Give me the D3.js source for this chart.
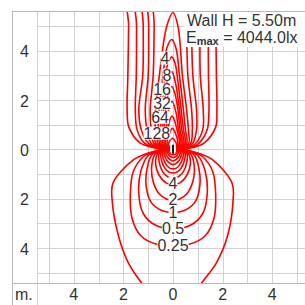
<!DOCTYPE html>
<html>
<head>
<meta charset="utf-8">
<script src="https://cdn.jsdelivr.net/npm/d3@7"></script>
<style>
html,body{margin:0;padding:0;background:#fff}
svg{display:block;font-family:"Liberation Sans",Arial,sans-serif}
</style>
</head>
<body>
<svg id="chart" width="305" height="305"></svg>
<script>
// axis / grid values (metres)
const gridSteps=[-5,-4,-3,-2,-1,0,1,2,3,4,5]
const xTicks=[-4,-2,0,2,4]
const yTicks=[4,2,0,-2,-4]

// isolux lines, [x, y] in metres, closed loops
const c0125=[[0.5,0],[0.9,0.1],[1.25,0.25],[1.72,0.9],[1.77,1.6],[1.75,3.0],[1.73,5.0],[1.73,6.5],[0,7.5],[-1.79,6.5],[-1.79,5.0],[-1.82,3.0],[-1.85,1.6],[-1.78,0.9],[-1.33,0.26],[-0.9,0.1],[-0.5,0],
  [-1.0,-0.15],[-1.6,-0.43],[-2.42,-1.37],[-2.45,-2.1],[-2.2,-3.5],[-1.8,-4.6],[-1.26,-5.43],[-0.6,-6.3],[0,-6.5],[0.6,-6.3],[1.15,-5.43],[1.75,-4.6],[2.2,-3.5],[2.42,-2.1],[2.38,-1.37],[1.6,-0.43],[1.0,-0.15]]
const c025=[[0.45,0],[0.8,0.1],[1.05,0.25],[1.38,0.8],[1.45,1.6],[1.43,3.0],[1.42,5.0],[1.42,6.5],[0,7.5],[-1.47,6.5],[-1.47,5.0],[-1.48,3.0],[-1.52,1.6],[-1.45,0.8],[-1.15,0.25],[-0.8,0.1],[-0.45,0],
  [-0.85,-0.12],[-1.2,-0.3],[-1.6,-0.9],[-1.72,-1.8],[-1.65,-2.8],[-1.3,-3.5],[-0.65,-3.85],[0,-3.9],[0.65,-3.85],[1.3,-3.5],[1.65,-2.8],[1.72,-1.8],[1.6,-0.9],[1.2,-0.3],[0.85,-0.12]]
const c05=[[0.4,0],[0.7,0.1],[0.92,0.25],[1.2,0.8],[1.22,1.6],[1.1,3.0],[1.09,5.0],[1.09,6.5],[0,7.5],[-1.2,6.5],[-1.2,5.0],[-1.22,3.0],[-1.38,1.6],[-1.28,0.8],[-1.0,0.25],[-0.7,0.1],[-0.4,0],
  [-0.72,-0.1],[-1.0,-0.25],[-1.3,-0.9],[-1.38,-1.8],[-1.2,-2.6],[-0.7,-3.08],[0,-3.22],[0.7,-3.08],[1.2,-2.6],[1.38,-1.8],[1.3,-0.9],[1.0,-0.25],[0.72,-0.1]]
const c1=[[0.35,0],[0.6,0.1],[0.8,0.25],[0.95,0.8],[0.95,1.6],[0.8,3.0],[0.75,5.0],[0.75,6.5],[0,7.5],[-0.98,6.5],[-0.98,5.0],[-1.0,3.0],[-1.12,1.6],[-1.05,0.8],[-0.88,0.25],[-0.62,0.1],[-0.35,0],
  [-0.6,-0.09],[-0.85,-0.22],[-1.05,-0.8],[-1.08,-1.5],[-0.88,-2.15],[-0.45,-2.48],[0,-2.56],[0.45,-2.48],[0.88,-2.15],[1.08,-1.5],[1.05,-0.8],[0.85,-0.22],[0.6,-0.09]]
const c2=[[0.3,0],[0.52,0.1],[0.72,0.25],[0.78,0.8],[0.75,1.6],[0.6,3.0],[0.55,5.0],[0.55,6.5],[0,7.5],[-0.76,6.5],[-0.76,5.0],[-0.8,3.0],[-0.92,1.6],[-0.88,0.8],[-0.78,0.25],[-0.55,0.1],[-0.3,0],
  [-0.5,-0.08],[-0.72,-0.2],[-0.86,-0.7],[-0.8,-1.3],[-0.56,-1.8],[-0.25,-2.02],[0,-2.06],[0.25,-2.02],[0.56,-1.8],[0.8,-1.3],[0.86,-0.7],[0.72,-0.2],[0.5,-0.08]]
const c4=[[0.27,0],[0.46,0.1],[0.64,0.25],[0.62,0.8],[0.55,1.6],[0.38,3.0],[0.2,5.0],[0,5.55],[-0.25,5.0],[-0.55,3.0],[-0.7,1.6],[-0.72,0.8],[-0.7,0.25],[-0.48,0.1],[-0.27,0],
  [-0.44,-0.07],[-0.62,-0.18],[-0.7,-0.6],[-0.56,-1.05],[-0.28,-1.36],[0,-1.42],[0.28,-1.36],[0.56,-1.05],[0.7,-0.6],[0.62,-0.18],[0.44,-0.07]]
const c8=[[0.24,0],[0.4,0.1],[0.56,0.25],[0.5,0.8],[0.42,1.6],[0.26,3.0],[0.12,4.1],[-0.05,4.45],[-0.25,4.1],[-0.4,3.0],[-0.56,1.6],[-0.6,0.8],[-0.62,0.25],[-0.42,0.1],[-0.24,0],
  [-0.4,-0.06],[-0.55,-0.15],[-0.56,-0.5],[-0.42,-0.9],[-0.2,-1.12],[0,-1.16],[0.2,-1.12],[0.42,-0.9],[0.56,-0.5],[0.55,-0.15],[0.4,-0.06]]
const c16=[[0.21,0],[0.35,0.1],[0.5,0.25],[0.42,0.8],[0.33,1.6],[0.18,2.9],[0.08,3.5],[-0.05,3.75],[-0.2,3.5],[-0.32,2.9],[-0.46,1.6],[-0.5,0.8],[-0.55,0.25],[-0.36,0.1],[-0.21,0],
  [-0.36,-0.05],[-0.48,-0.13],[-0.46,-0.45],[-0.33,-0.76],[-0.15,-0.93],[0,-0.96],[0.15,-0.93],[0.33,-0.76],[0.46,-0.45],[0.48,-0.13],[0.36,-0.05]]
const c32=[[0.18,0],[0.3,0.09],[0.44,0.25],[0.35,0.8],[0.26,1.6],[0.12,2.6],[-0.05,3.15],[-0.2,2.9],[-0.3,2.3],[-0.38,1.6],[-0.42,0.8],[-0.48,0.25],[-0.31,0.09],[-0.18,0],
  [-0.32,-0.05],[-0.42,-0.12],[-0.38,-0.4],[-0.25,-0.65],[-0.12,-0.77],[0,-0.79],[0.12,-0.77],[0.25,-0.65],[0.38,-0.4],[0.42,-0.12],[0.32,-0.05]]
const c64=[[0.15,0],[0.26,0.08],[0.38,0.25],[0.28,0.8],[0.2,1.6],[0.08,2.25],[-0.05,2.55],[-0.18,2.3],[-0.3,1.6],[-0.35,0.8],[-0.42,0.25],[-0.27,0.08],[-0.15,0],
  [-0.28,-0.04],[-0.36,-0.1],[-0.3,-0.35],[-0.18,-0.53],[0,-0.62],[0.18,-0.53],[0.3,-0.35],[0.36,-0.1],[0.28,-0.04]]
const c128=[[0.13,0],[0.22,0.08],[0.32,0.25],[0.22,0.8],[0.12,1.5],[-0.04,1.95],[-0.18,1.6],[-0.27,0.8],[-0.36,0.25],[-0.23,0.08],[-0.13,0],
  [-0.24,-0.04],[-0.3,-0.1],[-0.24,-0.28],[-0.12,-0.42],[0,-0.47],[0.12,-0.42],[0.24,-0.28],[0.3,-0.1],[0.24,-0.04]]
const c256=[[0.11,0],[0.18,0.07],[0.26,0.25],[0.16,0.8],[0.05,1.2],[-0.04,1.35],[-0.14,1.15],[-0.2,0.8],[-0.3,0.25],[-0.19,0.07],[-0.11,0],
  [-0.2,-0.03],[-0.24,-0.09],[-0.18,-0.22],[-0.08,-0.31],[0,-0.33],[0.08,-0.31],[0.18,-0.22],[0.24,-0.09],[0.2,-0.03]]
const c512=[[0.09,0],[0.15,0.06],[0.2,0.25],[0.1,0.65],[-0.03,0.85],[-0.14,0.65],[-0.24,0.25],[-0.15,0.06],[-0.09,0],
  [-0.16,-0.03],[-0.18,-0.08],[-0.12,-0.18],[0,-0.22],[0.12,-0.18],[0.18,-0.08],[0.16,-0.03]]
const c1024=[[0.07,0],[0.12,0.06],[0.14,0.22],[-0.03,0.45],[-0.18,0.22],[-0.12,0.06],[-0.07,0],
  [-0.12,-0.03],[-0.12,-0.1],[0,-0.14],[0.12,-0.1],[0.12,-0.03]]
const isoLines=[c0125,c025,c05,c1,c2,c4,c8,c16,c32,c64,c128,c256,c512,c1024]

// line labels: text and where it sits (metres)
const labelText=['4','8','16','32','64','128','4','2','1','0.5','0.25']
const labelX=[-0.32,-0.24,-0.44,-0.44,-0.52,-0.65,0,0,0,0,0]
const labelY=[3.70,3.01,2.44,1.87,1.30,0.66,-1.37,-2.05,-2.54,-3.20,-3.88]

const wallH='5.50m'
const eMax='4044.0lx'

const svg=d3.select('#chart')
const x=d3.scaleLinear().domain([-5,5]).range([49,297])
const y=d3.scaleLinear().domain([-5,5]).range([272.7,26])

// grid
const grid=svg.append('g').attr('shape-rendering','crispEdges')
grid.selectAll('line.gx').data(gridSteps).join('line')
  .attr('class','gx')
  .attr('x1',d=>Math.round(x(d))+0.5).attr('x2',d=>Math.round(x(d))+0.5)
  .attr('y1',11).attr('y2',283)
  .attr('stroke','#d2d2d2')
grid.selectAll('line.gy').data(gridSteps).join('line')
  .attr('class','gy')
  .attr('y1',d=>Math.round(y(d))+0.5).attr('y2',d=>Math.round(y(d))+0.5)
  .attr('x1',37).attr('x2',305)
  .attr('stroke','#d2d2d2')

// contours
svg.append('clipPath').attr('id','plot')
  .append('rect').attr('x',37).attr('y',11).attr('width',268).attr('height',272)
const line=d3.line()
  .x(d=>x(d[0])).y(d=>y(d[1]))
  .curve(d3.curveCatmullRomClosed.alpha(0.5))
svg.append('g').attr('clip-path','url(#plot)')
  .selectAll('path').data(isoLines).join('path')
  .attr('d',line)
  .attr('fill','none')
  .attr('stroke','#ff0000')
  .attr('stroke-width',1.6)

// luminaire mark
svg.append('ellipse').attr('cx',x(0)).attr('cy',y(0)).attr('rx',3).attr('ry',4.5).attr('fill','#fff')
svg.append('line').attr('x1',x(0)).attr('x2',x(0)).attr('y1',y(0)-4.5).attr('y2',y(0)+4.5)
  .attr('stroke','#000').attr('stroke-width',1.8)

// labels on lines
const labels=svg.append('g').selectAll('g').data(labelText).join('g')
labels.append('text')
  .attr('x',(d,i)=>x(labelX[i])).attr('y',(d,i)=>y(labelY[i]))
  .attr('text-anchor','middle').attr('dominant-baseline','central')
  .attr('font-size',16).attr('fill','#333')
  .text(d=>d)
labels.each(function(){
  const g=d3.select(this)
  const b=g.select('text').node().getBBox()
  g.insert('rect','text').attr('x',b.x).attr('y',b.y+2).attr('width',b.width).attr('height',b.height-4).attr('fill','#fff')
})

// title box
svg.append('rect').attr('x',184).attr('y',11).attr('width',121).attr('height',36).attr('fill','#fff')
svg.append('text').attr('x',187).attr('y',26).attr('font-size',16).attr('fill','#333').text('Wall H = '+wallH)
const em=svg.append('text').attr('x',186).attr('y',43).attr('font-size',16).attr('fill','#333')
em.append('tspan').text('E')
em.append('tspan').attr('font-size',11).attr('font-weight','bold').attr('dy',1.5).text('max')
em.append('tspan').attr('dy',-1.5).text(' = '+eMax)

// frame
const frame=svg.append('g').attr('stroke','#b8b8b8').attr('shape-rendering','crispEdges')
frame.append('line').attr('x1',12.5).attr('x2',12.5).attr('y1',11).attr('y2',305)
frame.append('line').attr('x1',37.5).attr('x2',37.5).attr('y1',11).attr('y2',305).attr('stroke','#d2d2d2')
frame.append('line').attr('x1',12).attr('x2',305).attr('y1',11.5).attr('y2',11.5)
frame.append('line').attr('x1',12).attr('x2',305).attr('y1',283.5).attr('y2',283.5)

// tick labels
svg.append('g').selectAll('text').data(yTicks).join('text')
  .attr('x',24.5).attr('y',d=>y(d)+1)
  .attr('text-anchor','middle').attr('dominant-baseline','central')
  .attr('font-size',16).attr('fill','#333')
  .text(d=>Math.abs(d))
svg.append('g').selectAll('text').data(xTicks).join('text')
  .attr('x',d=>x(d)).attr('y',300)
  .attr('text-anchor','middle')
  .attr('font-size',16).attr('fill','#333')
  .text(d=>Math.abs(d))
svg.append('text').attr('x',15).attr('y',300).attr('font-size',16).attr('fill','#333').text('m.')
</script>
</body>
</html>
